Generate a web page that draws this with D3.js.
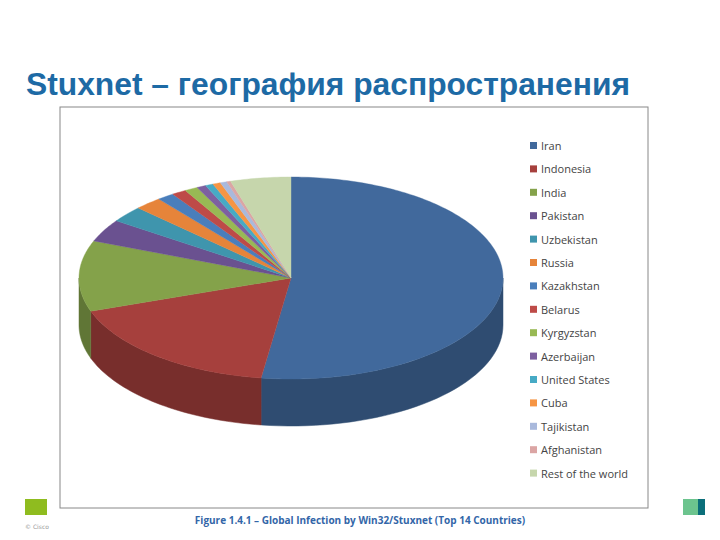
<!DOCTYPE html><html><head><meta charset="utf-8"><script src="https://cdn.jsdelivr.net/npm/d3@7"></script>
<style>body{margin:0;background:#fff}</style></head><body><svg id="c" width="720" height="540"></svg>
<script>
const countries=["Iran","Indonesia","India","Pakistan","Uzbekistan","Russia","Kazakhstan","Belarus","Kyrgyzstan","Azerbaijan","United States","Cuba","Tajikistan","Afghanistan","Rest of the world"];
const values=[52.2,17.4,11.3,3.6,2.6,2.1,1.3,1.1,1.0,0.7,0.6,0.6,0.5,0.3,4.6];
const colors=["#41699c","#a6403d","#84a24a","#6a5190","#3f95ad","#e6843a","#4a7ebb","#be4b48","#98b954","#7d60a0","#46aac5","#f69544","#a9b9dc","#dba5a4","#c6d6ac"];
const svg=d3.select("#c");
svg.append("text").attr("x",26).attr("y",95).attr("font-family","Liberation Sans, Arial").attr("font-weight","bold").attr("font-size",31).attr("fill","#1d6aa5").attr("textLength",604).attr("lengthAdjust","spacingAndGlyphs").text("Stuxnet – география распространения");
svg.append("rect").attr("x",60).attr("y",107).attr("width",588).attr("height",401).attr("fill","#fff").attr("stroke","#888");
svg.append("rect").attr("x",25).attr("y",499).attr("width",22).attr("height",16).attr("fill","#8fbc1f");
svg.append("rect").attr("x",683).attr("y",499).attr("width",22).attr("height",16).attr("fill","#6cc48e");
svg.append("rect").attr("x",698).attr("y",499).attr("width",7).attr("height",16).attr("fill","#0b6f7a");
svg.append("text").attr("x",25).attr("y",529).attr("font-size",6).attr("fill","#999").attr("font-family","DejaVu Sans").text("© Cisco");
svg.append("text").attr("x",360).attr("y",524).attr("text-anchor","middle").attr("font-family","Open Sans").attr("font-weight","bold").attr("font-size",10).attr("fill","#3366a8").text("Figure 1.4.1 – Global Infection by Win32/Stuxnet (Top 14 Countries)");
const cx=291,cy=278,rx=212,ry=101,depth=47;
const pie=d3.pie().sort(null).value(d=>d)(values);
const pt=(a,dy=0)=>[cx+rx*Math.sin(a),cy-ry*Math.cos(a)+dy];
const g=svg.append("g");
pie.forEach((p,i)=>{
  const a0=Math.max(p.startAngle,Math.PI/2),a1=Math.min(p.endAngle,1.5*Math.PI);
  if(a1<=a0)return;
  const n=40,top=[],bot=[];
  for(let k=0;k<=n;k++){const a=a0+(a1-a0)*k/n;top.push(pt(a));bot.push(pt(a,depth));}
  g.append("path").attr("d","M"+top.map(q=>q.join(",")).join("L")+"L"+bot.reverse().map(q=>q.join(",")).join("L")+"Z")
   .attr("fill",d3.color(colors[i]).darker(0.9)).attr("stroke",d3.color(colors[i]).darker(0.9)).attr("stroke-width",0.5);
});
pie.forEach((p,i)=>{
  const n=Math.max(4,Math.ceil((p.endAngle-p.startAngle)*60)),pts=[[cx,cy]];
  for(let k=0;k<=n;k++)pts.push(pt(p.startAngle+(p.endAngle-p.startAngle)*k/n));
  g.append("path").attr("d","M"+pts.map(q=>q.join(",")).join("L")+"Z").attr("fill",colors[i]).attr("stroke",colors[i]).attr("stroke-width",0.4);
});
const lg=svg.append("g").attr("font-family","Open Sans").attr("font-size",11).attr("fill","#444");
countries.forEach((c,i)=>{
  const y=146+i*23.4;
  lg.append("rect").attr("x",530).attr("y",y-4).attr("width",7).attr("height",7).attr("fill",colors[i]);
  lg.append("text").attr("x",541).attr("y",y+4).attr("fill","#444").text(c);
});
</script></body></html>
